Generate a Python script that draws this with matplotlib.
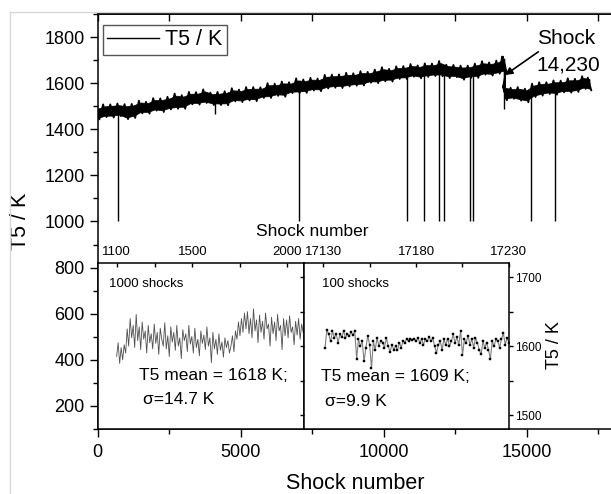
import numpy as np
import matplotlib
matplotlib.use("Agg")
import matplotlib.pyplot as plt
from matplotlib.lines import Line2D

plt.rcParams['font.family'] = ['Liberation Sans', 'DejaVu Sans']

# ---------------- data ----------------
main_x = [0, 250, 500, 750, 1000, 1250, 1500, 1750, 2000, 2250, 2500, 2750, 3000, 3250, 3500,
          3750, 4000, 4250, 4500, 4750, 5000, 5250, 5500, 5750, 6000, 6250, 6500, 6750, 7000,
          7250, 7500, 7750, 8000, 8250, 8500, 8750, 9000, 9250, 9500, 9750, 10000, 10250,
          10500, 10750, 11000, 11250, 11500, 11750, 12000, 12250, 12500, 12750, 13000, 13250,
          13500, 13750, 14000, 14200, 14225, 14235, 14250, 14500, 14750, 15000, 15250, 15500,
          15750, 16000, 16250, 16500, 16750, 17000, 17200]
main_center = [1470, 1475, 1484, 1482, 1474, 1485, 1493, 1497, 1502, 1507, 1512, 1519, 1524, 1531,
               1535, 1539, 1536, 1532, 1538, 1543, 1547, 1551, 1555, 1560, 1566, 1572, 1576, 1580,
               1585, 1589, 1593, 1597, 1603, 1609, 1613, 1610, 1617, 1621, 1625, 1630, 1635, 1640,
               1643, 1647, 1650, 1652, 1655, 1657, 1660, 1656, 1650, 1644, 1650, 1655, 1660, 1663,
               1667, 1675, 1685, 1558, 1557, 1556, 1553, 1550, 1565, 1576, 1580, 1581, 1584, 1587,
               1594, 1600, 1598]
band_up = [26, 33, 24, 30, 35, 25, 31, 22, 33, 27, 29, 36, 24, 31, 26, 34, 23, 30, 27, 35, 25, 32,
           28, 22, 34, 26, 31, 24, 36, 27, 30, 23, 33, 28, 25, 35, 26, 31, 24, 29, 34, 22, 30, 27,
           33, 25, 31, 28, 36, 24, 29, 32, 26, 30, 35, 27, 31, 40, 30, 25, 31, 24, 30, 26, 33, 28,
           24, 31, 27, 34, 25, 30, 26]
band_lo = [27, 22, 33, 25, 30, 36, 24, 29, 21, 32, 26, 30, 35, 23, 28, 25, 31, 27, 34, 22, 29, 26,
           33, 24, 30, 27, 35, 23, 28, 31, 25, 32, 26, 29, 34, 24, 28, 31, 23, 30, 27, 33, 25, 29,
           22, 31, 28, 26, 30, 34, 24, 29, 27, 32, 23, 30, 26, 28, 30, 26, 31, 24, 29, 33, 25, 30,
           27, 31, 24, 28, 32, 25, 29]

spike_x = [720, 4100, 7040, 10825, 11400, 11920, 12120, 13020, 13135, 14217, 15150, 15990]
spike_min = [1000, 1465, 1000, 1000, 1000, 1000, 1000, 1000, 1000, 1490, 1000, 1000]
spike_top = [1480, 1535, 1585, 1645, 1652, 1658, 1660, 1648, 1650, 1680, 1560, 1580]

# inset 1: 1000 shocks (sampled)
inset1_vals = [1585, 1605, 1575, 1598, 1580, 1602, 1590,
               1625, 1600, 1640, 1612, 1630, 1598, 1646, 1608, 1628, 1595,
               1635, 1610, 1622, 1590, 1630, 1605, 1618, 1596, 1632, 1604,
               1620, 1588, 1626, 1610, 1600, 1634, 1596, 1615, 1585, 1628,
               1606, 1620, 1594, 1630, 1600, 1612, 1582, 1624, 1608, 1618,
               1592, 1630, 1603, 1614, 1590, 1626, 1598, 1610, 1586, 1622,
               1604, 1616, 1595, 1628, 1600, 1612, 1576, 1620, 1596, 1610,
               1588, 1618, 1594, 1606, 1584, 1612, 1598, 1608, 1590,
               1600, 1615, 1592, 1622, 1610, 1635, 1615, 1640, 1620, 1648,
               1625, 1650, 1618, 1640, 1612, 1654, 1622, 1638, 1605, 1645,
               1620, 1636, 1610, 1648, 1625, 1632, 1600, 1642, 1618, 1635,
               1608, 1646, 1622, 1630, 1595, 1640, 1615, 1638, 1612, 1644,
               1620, 1628, 1602, 1636, 1616, 1640, 1610, 1632, 1620]
inset1_first, inset1_last = 1100, 2085

# inset 2: 100 shocks
inset2_first = 17131
inset2_vals = [1598, 1624, 1617, 1607, 1622, 1612, 1618, 1605, 1617, 1613,
               1622, 1612, 1618, 1615, 1620, 1616, 1622, 1582, 1610, 1600,
               1607, 1578, 1598, 1615, 1602, 1568, 1607, 1595, 1612, 1600,
               1608, 1605, 1598, 1612, 1600, 1592, 1602, 1595, 1600, 1594,
               1605, 1598, 1608, 1605, 1611, 1607, 1610, 1609, 1611, 1607,
               1612, 1605, 1610, 1602, 1611, 1607, 1613, 1607, 1612, 1600,
               1590, 1602, 1607, 1595, 1610, 1602, 1611, 1600, 1607, 1617,
               1605, 1613, 1602, 1622, 1587, 1610, 1605, 1615, 1602, 1610,
               1598, 1612, 1605, 1595, 1588, 1607, 1598, 1605, 1595, 1581,
               1607, 1600, 1610, 1607, 1598, 1610, 1619, 1602, 1612, 1605]

main_yticks = [200, 400, 600, 800, 1000, 1200, 1400, 1600, 1800]
main_xticks = [0, 5000, 10000, 15000]
inset1_xticks = [1100, 1500, 2000]
inset2_xticks = [17130, 17180, 17230]
inset_yticks = [1500, 1600, 1700]

W, H = 611, 494
fig = plt.figure(figsize=(W / 100, H / 100), dpi=100)


def fx(px):
    return px / W


def fy(py):
    return 1 - py / H


# ---------------- main axes ----------------
ax = fig.add_axes([fx(97.7), fy(429), (612.4 - 97.7) / W, (429 - 14) / H])
ax.set_xlim(0, 18000)
ax.set_ylim(100, 1900)

xm = np.array(main_x, dtype=float)
cm = np.array(main_center, dtype=float)
up = cm + np.array(band_up)
lo = cm - np.array(band_lo)
# solid core of the noisy trace
ax.fill_between(xm, cm - 0.75 * np.array(band_lo), cm + 0.75 * np.array(band_up),
                color='k', lw=0.5)
# ragged trace alternating between the upper and lower excursions
zx = np.ravel(np.column_stack([xm - 60, xm + 60]))
zy = np.ravel(np.column_stack([up, lo]))
ax.plot(zx, zy, color='k', lw=1.3)
ax.plot(xm, cm, color='k', lw=1.0, label='T5 / K')
ax.vlines(spike_x, spike_min, spike_top, color='k', lw=1.0)

ax.set_yticks(main_yticks)
ax.set_yticks([v + 100 for v in main_yticks[:-1]] + [100, 1900], minor=True)
ax.set_xticks(main_xticks)
ax.set_xticks([2500, 7500, 12500, 17500], minor=True)
ax.tick_params(which='major', direction='out', length=6, width=1, labelsize=13, pad=3.5)
ax.tick_params(which='minor', direction='out', length=3.5, width=1)
ax.tick_params(axis='x', pad=5)
for s in ax.spines.values():
    s.set_linewidth(1.1)

sec = ax.secondary_xaxis('top')
sec.set_xticks([0, 2500, 5000, 7500, 10000, 12500, 15000, 17500])
sec.tick_params(direction='in', length=5, width=1, labeltop=False)
sec.spines['top'].set_linewidth(1.1)

ax.set_xlabel('Shock number', fontsize=15.5)
ax.xaxis.set_label_coords(0.5, -0.105)
ax.set_ylabel('T5 / K', fontsize=15.5)
ax.yaxis.set_label_coords(-0.13, 0.5)

leg = ax.legend(loc='upper left', bbox_to_anchor=(0.0103, 0.9735), borderaxespad=0,
                fontsize=15.5, handlelength=2.4, handletextpad=0.3, borderpad=0.2,
                fancybox=False, framealpha=1, edgecolor='#555555')
leg.get_frame().set_linewidth(1.0)

ax.annotate('', xy=(14244, 1635), xytext=(15409, 1736),
            arrowprops=dict(arrowstyle='-|>', color='k', lw=1.2, mutation_scale=11,
                            shrinkA=0, shrinkB=0))
fig.text(fx(536.7), fy(38), 'Shock', fontsize=15, ha='left', va='center')
fig.text(fx(536.7), fy(65), '14,230', fontsize=15, ha='left', va='center')

# ---------------- inset 1 ----------------
axL = fig.add_axes([fx(97.7), fy(429), 206 / W, (429 - 263.3) / H])
axL.set_xlim(1000, 2088)
axL.set_ylim(1480, 1720)
x1 = np.linspace(inset1_first, inset1_last, len(inset1_vals))
axL.plot(x1, inset1_vals, color='#505050', lw=0.6)
axL.xaxis.tick_top()
axL.set_xticks(inset1_xticks)
axL.set_xticks([1300, 1750], minor=True)
axL.tick_params(axis='x', which='both', direction='in', length=3, width=1,
                labelsize=9.5, pad=4)
axL.tick_params(axis='y', left=False, right=False, labelleft=False)
for s in axL.spines.values():
    s.set_linewidth(1.1)

# ---------------- inset 2 ----------------
axR = fig.add_axes([fx(303.7), fy(429), 205.6 / W, (429 - 263.3) / H])
axR.set_xlim(17119.5, 17230.2)
axR.set_ylim(1480, 1720)
x2 = np.arange(inset2_first, inset2_first + len(inset2_vals))
axR.plot(x2, inset2_vals, color='#808080', lw=0.8, marker='s', markersize=1.9,
         markerfacecolor='k', markeredgecolor='k', markeredgewidth=0.3)
axR.xaxis.tick_top()
axR.set_xticks(inset2_xticks)
axR.set_xticks([17155, 17205], minor=True)
axR.tick_params(axis='x', which='both', direction='in', length=3, width=1,
                labelsize=9.5, pad=4)
axR.yaxis.tick_right()
axR.set_yticks(inset_yticks)
axR.set_yticks([1550, 1650], minor=True)
axR.tick_params(axis='y', which='both', direction='out', length=3, width=1,
                labelsize=8.5, pad=1, left=True)
for s in axR.spines.values():
    s.set_linewidth(1.1)
axR.text(1.222, 0.505, 'T5 / K', transform=axR.transAxes, rotation=90,
         ha='center', va='center', fontsize=13)

# ---------------- texts ----------------
fig.text(fx(312), fy(232), 'Shock number', fontsize=12.5, ha='center', va='center')
fig.text(fx(109.3), fy(284.3), '1000 shocks', fontsize=9.5, ha='left', va='center')
fig.text(fx(139.3), fy(375.7), 'T5 mean = 1618 K;', fontsize=12.5, ha='left', va='center')
fig.text(fx(143.3), fy(399.3), 'σ=14.7 K', fontsize=12.5, ha='left', va='center')
fig.text(fx(321.7), fy(284.3), '100 shocks', fontsize=9.5, ha='left', va='center')
fig.text(fx(320.7), fy(376.7), 'T5 mean = 1609 K;', fontsize=12.5, ha='left', va='center')
fig.text(fx(325), fy(401), 'σ=9.9 K', fontsize=12.5, ha='left', va='center')

# faint screenshot border
fig.add_artist(Line2D([fx(10), fx(10)], [fy(12), 0], color='#d8d8d8', lw=1))
fig.add_artist(Line2D([fx(10), 1], [fy(12), fy(12)], color='#d8d8d8', lw=1))

fig.savefig('out.png', dpi=100)
